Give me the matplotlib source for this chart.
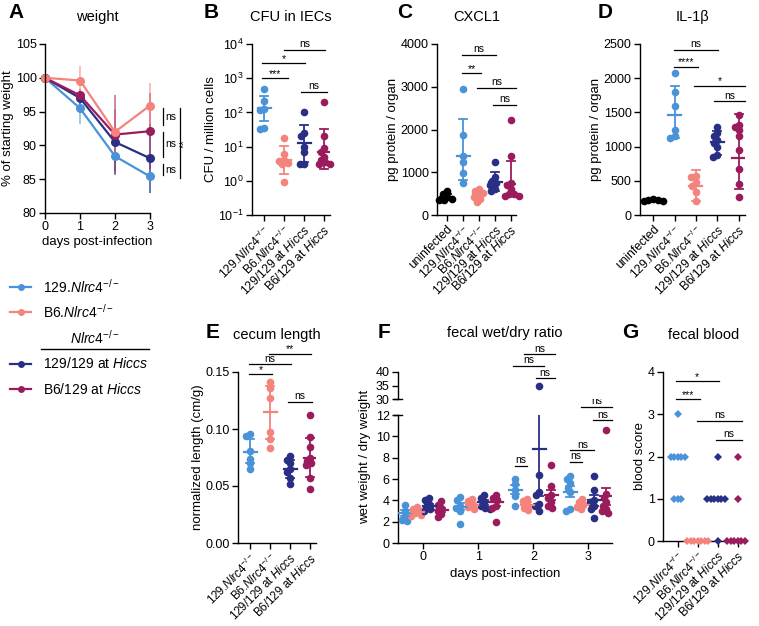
import numpy as np
import matplotlib
matplotlib.use('Agg')
import matplotlib.pyplot as plt
from matplotlib.lines import Line2D
from matplotlib.ticker import LogLocator, NullLocator, LogFormatterMathtext, FormatStrFormatter

plt.rcParams['font.family'] = ['Liberation Sans', 'DejaVu Sans']
plt.rcParams['mathtext.fontset'] = 'custom'
plt.rcParams['mathtext.rm'] = 'Liberation Sans'
plt.rcParams['mathtext.it'] = 'Liberation Sans:italic'
plt.rcParams['mathtext.bf'] = 'Liberation Sans:bold'
plt.rcParams['axes.linewidth'] = 1.0

# ---- colours ----
c129 = '#4A93D8'
cb6 = '#F4837D'
ch129 = '#2A2F86'
chb6 = '#9A1C5C'
cun = '#000000'

# ---- labels ----
lab4 = [r'129.$\it{Nlrc4}^{-/-}$', r'B6.$\it{Nlrc4}^{-/-}$',
        r'129/129 at $\it{Hiccs}$', r'B6/129 at $\it{Hiccs}$']
lab5 = ['uninfected'] + lab4

# ---- A: weight ----
days = [0, 1, 2, 3]
wt_129 = [100, 95.5, 88.4, 85.4]
wt_129_sd = [0, 2.4, 2.2, 2.4]
wt_b6 = [100, 99.6, 92.0, 95.9]
wt_b6_sd = [0, 2.2, 3.5, 3.4]
wt_h129 = [100, 97.0, 90.5, 88.1]
wt_h129_sd = [0, 1.0, 4.9, 5.1]
wt_hb6 = [100, 97.4, 91.6, 92.1]
wt_hb6_sd = [0, 0.9, 5.8, 5.6]

# ---- B: CFU ----
cfu_129 = [470, 220, 130, 118, 36, 33]
cfu_b6 = [18, 6, 4, 3.8, 3.3, 3.0, 0.9]
cfu_h129 = [100, 25, 20, 10, 7, 3.2, 3.0]
cfu_hb6 = [200, 20, 9, 7, 5, 4, 3.5, 3.2, 3.0]
cfu_mean = [135, 4.0, 12.4, 6.9]
cfu_lo = [55, 1.55, 3.5, 2.2]
cfu_hi = [300, 10.5, 44, 33]

# ---- C: CXCL1 ----
cx_un = [560, 480, 420, 380, 350, 340]
cx_129 = [2950, 1880, 1380, 1230, 980, 740]
cx_b6 = [600, 560, 520, 480, 430, 380, 300]
cx_h129 = [1250, 880, 800, 750, 700, 600, 560]
cx_hb6 = [2220, 1380, 750, 700, 600, 500, 480, 450, 440]
cx_mean = [430, 1380, 480, 780, 720]
cx_lo = [370, 830, 400, 560, 450]
cx_hi = [490, 2240, 560, 1000, 1260]

# ---- D: IL-1b ----
il_un = [235, 225, 215, 210, 205]
il_129 = [2070, 1800, 1600, 1250, 1150, 1120]
il_b6 = [570, 550, 480, 430, 330, 200]
il_h129 = [1290, 1200, 1150, 1100, 1050, 1000, 880, 850]
il_hb6 = [1460, 1320, 1280, 1250, 1150, 950, 670, 460, 270]
il_mean = [215, 1460, 430, 1060, 840]
il_lo = [205, 1130, 200, 880, 380]
il_hi = [225, 1890, 660, 1230, 1480]

# ---- E: cecum length ----
ce_129 = [0.096, 0.094, 0.081, 0.074, 0.070, 0.065]
ce_b6 = [0.141, 0.136, 0.127, 0.097, 0.091, 0.083]
ce_h129 = [0.076, 0.073, 0.070, 0.065, 0.062, 0.057, 0.052]
ce_hb6 = [0.112, 0.093, 0.084, 0.075, 0.072, 0.070, 0.068, 0.057, 0.047]
ce_mean = [0.080, 0.115, 0.065, 0.075]
ce_lo = [0.070, 0.091, 0.057, 0.058]
ce_hi = [0.091, 0.138, 0.073, 0.092]

# ---- F: wet/dry ratio (per day) ----
wd_129 = [[3.6, 3.0, 2.5, 2.2, 2.1], [4.3, 4.0, 3.5, 3.3, 3.0, 1.8],
          [6.0, 5.5, 5.0, 4.4, 3.5], [6.3, 6.0, 5.6, 5.2, 4.8, 3.2, 3.0]]
wd_b6 = [[3.4, 3.2, 3.0, 2.8, 2.6, 2.5], [4.1, 3.9, 3.6, 3.4, 3.2],
         [4.1, 3.9, 3.6, 3.3, 3.1], [4.1, 3.8, 3.6, 3.4, 3.2]]
wd_h129 = [[4.2, 4.0, 3.7, 3.4, 3.2, 3.0], [4.5, 4.2, 3.8, 3.5, 3.3, 3.2],
           [35, 6.4, 4.8, 4.5, 3.7, 3.5, 3.0], [6.3, 5.0, 4.0, 3.8, 3.5, 3.2, 2.3]]
wd_hb6 = [[3.9, 3.6, 3.3, 3.0, 2.7, 2.4], [4.5, 4.2, 4.0, 3.5, 3.3, 2.0],
          [7.3, 5.3, 4.5, 4.2, 3.8, 3.5, 3.3], [10.6, 4.6, 4.2, 3.8, 3.5, 3.2, 3.0, 2.8]]
wd_mean = [[2.8, 3.4, 5.0, 4.8], [2.9, 3.6, 3.6, 3.6],
           [3.5, 3.8, 8.8, 4.0], [3.1, 3.8, 4.5, 4.4]]
wd_sem = [[0.25, 0.35, 0.4, 0.5], [0.15, 0.15, 0.2, 0.15],
          [0.2, 0.2, 4.4, 0.5], [0.2, 0.3, 0.5, 0.8]]

# ---- G: blood score ----
bl_129 = [3, 2, 2, 2, 2, 2, 1, 1, 1]
bl_b6 = [0, 0, 0, 0, 0, 0, 0]
bl_h129 = [2, 1, 1, 1, 1, 1, 1, 0]
bl_hb6 = [2, 1, 0, 0, 0, 0, 0, 0]

W, H = 759, 626
fig = plt.figure(figsize=(W / 100, H / 100), dpi=100)


def add_ax(l, t, r, b):
    return fig.add_axes([l / W, 1 - b / H, (r - l) / W, (b - t) / H])


def style(ax):
    ax.spines['top'].set_visible(False)
    ax.spines['right'].set_visible(False)
    ax.tick_params(direction='out', length=4, width=1, labelsize=9, pad=2)


def title(ax, s, y):
    bb = ax.get_position()
    fig.text((bb.x0 + bb.x1) / 2, 1 - y / H, s, ha='center', va='center', fontsize=10.5)


def letter(s, x, y):
    fig.text(x / W, 1 - y / H, s, ha='center', va='center', fontsize=15, fontweight='bold')


def pxunit(ax):
    return ax.transData.transform((1, 0))[0] - ax.transData.transform((0, 0))[0]


def swarm(ax, xc, vals, d, squeeze=1.0):
    t = ax.transData
    pts = t.transform(np.column_stack([np.full(len(vals), xc), vals]))
    x0 = pts[0, 0]
    placed = []
    dd = d * squeeze
    cands = sorted(np.arange(-40, 40.01, 0.5), key=lambda v: (abs(v), v))
    for yp in pts[:, 1]:
        for off in cands:
            if all((off - px) ** 2 + (yp - py) ** 2 >= dd ** 2 for px, py in placed):
                break
        placed.append((off, yp))
    inv = t.inverted()
    return [inv.transform((x0 + o, yp))[0] for o, yp in placed]


def meanbar(ax, x, m, lo, hi, color, lw=1.3):
    u = pxunit(ax)
    wm, wc = 6.5 / u, 4.0 / u
    ax.plot([x, x], [lo, hi], color=color, lw=lw, zorder=5, solid_capstyle='butt')
    ax.plot([x - wm, x + wm], [m, m], color=color, lw=1.6, zorder=5)
    ax.plot([x - wc, x + wc], [hi, hi], color=color, lw=lw, zorder=5)
    ax.plot([x - wc, x + wc], [lo, lo], color=color, lw=lw, zorder=5)


def bracket(ax, x1, x2, y, txt, fs=7.5):
    ax.plot([x1, x2], [y, y], color='k', lw=0.9, clip_on=False)
    off = -0.5 if '*' in txt else 0.5
    ax.annotate(txt, xy=((x1 + x2) / 2, y), xytext=(0, off), textcoords='offset points',
                ha='center', va='bottom', fontsize=fs, annotation_clip=False)


def dots(ax, groups, colors, ms=5.5, marker='o', squeeze=0.6):
    d = ms * 100 / 72
    for i, (vals, c) in enumerate(zip(groups, colors)):
        xs = swarm(ax, i, vals, d, squeeze)
        ax.plot(xs, vals, marker, color=c, ms=ms, mew=0, ls='none', clip_on=False, zorder=3)


def catx(ax, labels, fs=8.7):
    ax.set_xticks(range(len(labels)))
    ax.set_xticklabels(labels, rotation=45, ha='right', rotation_mode='anchor', fontsize=fs)


# ================= A =================
axA = add_ax(45, 44, 150, 213)
style(axA)
axA.set_xlim(0, 3)
axA.set_ylim(80, 105)
axA.set_yticks([80, 85, 90, 95, 100, 105])
axA.set_xticks(days)
for m, sd, c in [(wt_129, wt_129_sd, c129), (wt_h129, wt_h129_sd, ch129),
                 (wt_hb6, wt_hb6_sd, chb6), (wt_b6, wt_b6_sd, cb6)]:
    cont = axA.errorbar(days, m, yerr=sd, color=c, marker='o', ms=6.5, lw=1.6,
                        capsize=4, elinewidth=1.2, capthick=1.2, ecolor=c, mew=0)
    for a in cont.get_children():
        a.set_clip_on(False)
        if a is not cont[0]:
            a.set_alpha(0.6)
axA.set_xlabel('days post-infection', fontsize=9.5, labelpad=2)
axA.set_ylabel('% of starting weight', fontsize=9.5, labelpad=1)
for y1, y2, t in [(93.0, 95.5, 'ns'), (88.3, 92.0, 'ns'), (85.6, 87.2, 'ns')]:
    axA.plot([3.36, 3.36], [y1, y2], color='k', lw=0.9, clip_on=False)
    axA.text(3.44, (y1 + y2) / 2, t, fontsize=7.5, va='center', ha='left')
axA.plot([3.87, 3.87], [85.2, 95.5], color='k', lw=0.9, clip_on=False)
axA.text(3.97, 90.3, '**', fontsize=8, va='center', ha='center', rotation=90)
title(axA, 'weight', 17)
letter('A', 16, 12)

# ================= B =================
axB = add_ax(252, 44, 330, 215)
style(axB)
axB.set_yscale('log')
axB.set_ylim(0.1, 1e4)
axB.set_xlim(-0.6, 3.3)
axB.yaxis.set_major_locator(LogLocator(base=10, numticks=10))
axB.yaxis.set_major_formatter(LogFormatterMathtext())
axB.yaxis.set_minor_locator(NullLocator())
catx(axB, lab4)
cols4 = [c129, cb6, ch129, chb6]
dots(axB, [cfu_129, cfu_b6, cfu_h129, cfu_hb6], cols4)
for i in range(4):
    meanbar(axB, i, cfu_mean[i], cfu_lo[i], cfu_hi[i], cols4[i])
axB.set_ylabel('CFU / million cells', fontsize=9.5, labelpad=1)
bracket(axB, -0.1, 1.2, 1.0e3, '***')
bracket(axB, -0.1, 2.05, 2.8e3, '*')
bracket(axB, 1.0, 3.05, 6.8e3, 'ns')
bracket(axB, 1.85, 3.15, 3.9e2, 'ns')
title(axB, 'CFU in IECs', 17)
letter('B', 211, 12)

# ================= C =================
cols5 = [cun, c129, cb6, ch129, chb6]
axC = add_ax(437, 44, 516, 215)
style(axC)
axC.set_ylim(0, 4000)
axC.set_xlim(-0.62, 4.3)
axC.set_yticks([0, 1000, 2000, 3000, 4000])
catx(axC, lab5)
dots(axC, [cx_un, cx_129, cx_b6, cx_h129, cx_hb6], cols5)
for i in range(5):
    meanbar(axC, i, cx_mean[i], cx_lo[i], cx_hi[i], cols5[i])
axC.set_ylabel('pg protein / organ', fontsize=9.5, labelpad=1)
bracket(axC, 0.95, 3.05, 3750, 'ns')
bracket(axC, 0.95, 2.1, 3316, '**')
bracket(axC, 1.9, 4.3, 2975, 'ns')
bracket(axC, 2.85, 4.3, 2580, 'ns')
title(axC, 'CXCL1', 17)
letter('C', 405, 12)

# ================= D =================
axD = add_ax(640, 44, 745, 215)
style(axD)
axD.set_ylim(0, 2500)
axD.set_xlim(-0.62, 4.3)
axD.set_yticks([0, 500, 1000, 1500, 2000, 2500])
catx(axD, lab5)
dots(axD, [il_un, il_129, il_b6, il_h129, il_hb6], cols5)
for i in range(5):
    meanbar(axD, i, il_mean[i], il_lo[i], il_hi[i], cols5[i])
axD.set_ylabel('pg protein / organ', fontsize=9.5, labelpad=1)
bracket(axD, 0.95, 3.05, 2413, 'ns')
bracket(axD, 0.95, 2.1, 2170, '****')
bracket(axD, 1.9, 4.3, 1893, '*')
bracket(axD, 2.85, 4.3, 1660, 'ns')
title(axD, 'IL-1β', 17)
letter('D', 605, 12)

# ================= legend =================
leg = [(287, c129, lab4[0]), (312, cb6, lab4[1]),
       (364, ch129, lab4[2]), (389, chb6, lab4[3])]
for y, c, t in leg:
    fig.add_artist(Line2D([10 / W, 31 / W], [1 - y / H] * 2, color=c, lw=1.6))
    fig.add_artist(Line2D([20.5 / W], [1 - y / H], color=c, marker='o', ms=5, mew=0))
    fig.text(43 / W, 1 - y / H, t, fontsize=10, va='center', ha='left')
fig.text(95 / W, 1 - 338 / H, r'$\it{Nlrc4}^{-/-}$', fontsize=10, ha='center', va='center')
fig.add_artist(Line2D([41 / W, 149 / W], [1 - 349 / H] * 2, color='k', lw=1.0))

# ================= E =================
axE = add_ax(238, 372, 316, 543)
style(axE)
axE.set_ylim(0, 0.15)
axE.set_xlim(-0.6, 3.3)
axE.set_yticks([0, 0.05, 0.10, 0.15])
axE.yaxis.set_major_formatter(FormatStrFormatter('%.2f'))
catx(axE, lab4, fs=8.4)
dots(axE, [ce_129, ce_b6, ce_h129, ce_hb6], cols4)
for i in range(4):
    meanbar(axE, i, ce_mean[i], ce_lo[i], ce_hi[i], cols4[i])
axE.set_ylabel('normalized length (cm/g)', fontsize=9.5, labelpad=1)
bracket(axE, -0.05, 1.1, 0.1482, '*')
bracket(axE, -0.05, 2.05, 0.1568, 'ns')
bracket(axE, 0.95, 3.05, 0.1659, '**')
bracket(axE, 1.9, 3.1, 0.1241, 'ns')
title(axE, 'cecum length', 335)
letter('E', 213, 333)

# ================= F =================
axF = add_ax(398, 415, 612, 543)
axFu = add_ax(398, 372, 612, 399)
style(axF)
style(axFu)
axFu.spines['bottom'].set_visible(False)
axFu.set_xticks([])
axF.set_ylim(0, 12)
axFu.set_ylim(30, 40)
axF.set_xlim(-0.46, 3.43)
axFu.set_xlim(-0.46, 3.43)
axF.set_yticks([0, 2, 4, 6, 8, 10, 12])
axFu.set_yticks([30, 35, 40])
axF.set_xticks(days)
offs = [-0.33, -0.11, 0.11, 0.33]
wd_all = [wd_129, wd_b6, wd_h129, wd_hb6]
d = 5.5 * 100 / 72
for g, (series, c) in enumerate(zip(wd_all, cols4)):
    for day in days:
        vals = series[day]
        xc = day + offs[g]
        xs = swarm(axF, xc, vals, d, 0.6)
        axF.plot(xs, vals, 'o', color=c, ms=5.5, mew=0, ls='none', zorder=3)
        axFu.plot(xs, vals, 'o', color=c, ms=5.5, mew=0, ls='none', zorder=3)
        m, s = wd_mean[g][day], wd_sem[g][day]
        meanbar(axF, xc, m, m - s, m + s, c)
# break caps on the y axis
for yy in [399, 415]:
    fig.add_artist(Line2D([394 / W, 402 / W], [1 - yy / H] * 2, color='k', lw=1.0))
axF.set_xlabel('days post-infection', fontsize=9.5, labelpad=3)
fig.text(365 / W, 1 - 457 / H, 'wet weight / dry weight', rotation=90, fontsize=9.5,
         ha='center', va='center')
bracket(axF, 1.67, 1.89, 7.26, 'ns')
bracket(axF, 2.67, 2.89, 7.64, 'ns')
bracket(axF, 2.67, 3.11, 8.7, 'ns')
bracket(axF, 3.09, 3.43, 11.5, 'ns')
bracket(axF, 2.87, 3.43, 12.75, 'ns')
bracket(axFu, 1.63, 2.2, 42.2, 'ns')
bracket(axFu, 1.83, 2.39, 46.5, 'ns')
bracket(axFu, 2.04, 2.39, 37.6, 'ns')
title(axF, 'fecal wet/dry ratio', 333)
letter('F', 384, 333)

# ================= G =================
axG = add_ax(663, 372, 744, 541)
style(axG)
axG.set_ylim(0, 4)
axG.set_xlim(-0.73, 3.3)
axG.set_yticks([0, 1, 2, 3, 4])
catx(axG, lab4)
dots(axG, [bl_129, bl_b6, bl_h129, bl_hb6], cols4, ms=4.5, marker='D', squeeze=0.5)
axG.set_ylabel('blood score', fontsize=9.5, labelpad=1)
bracket(axG, -0.1, 2.05, 3.78, '*')
bracket(axG, -0.1, 1.1, 3.35, '***')
bracket(axG, 0.95, 3.2, 2.85, 'ns')
bracket(axG, 1.9, 3.2, 2.39, 'ns')
title(axG, 'fecal blood', 335)
letter('G', 630, 333)

fig.savefig('out.png', dpi=100)
